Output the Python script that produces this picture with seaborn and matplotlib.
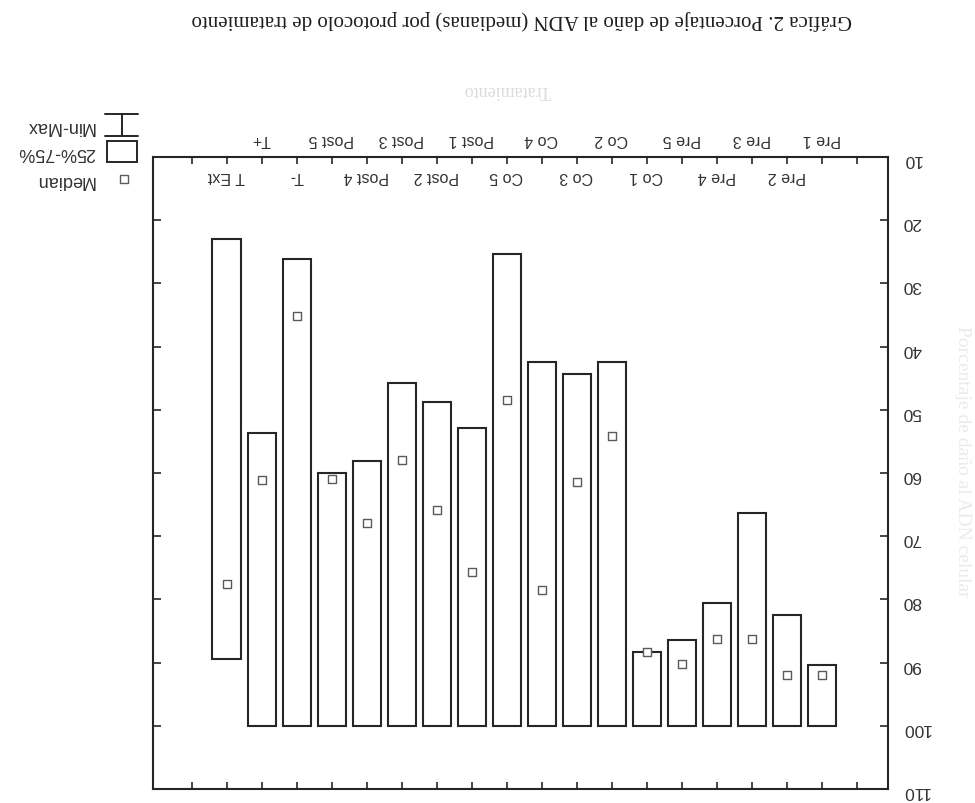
import matplotlib
matplotlib.use("Agg")
import matplotlib.pyplot as plt
from matplotlib.patches import Rectangle
from matplotlib.lines import Line2D
import pandas as pd
import seaborn as sns

# Treatment protocols, in axis order
categories = ["Pre 1", "Pre 2", "Pre 3", "Pre 4", "Pre 5",
              "Co 1", "Co 2", "Co 3", "Co 4", "Co 5",
              "Post 1", "Post 2", "Post 3", "Post 4", "Post 5",
              "T-", "T+", "T Ext"]
# Box edges (25% and 75%) and medians, % DNA damage
box_low = [90.4, 82.5, 66.4, 80.5, 86.4, 88.3, 42.4, 44.3, 42.4, 25.3,
           52.9, 48.7, 45.8, 58.1, 60.0, 26.2, 53.7, 23.0]
box_high = [100, 100, 100, 100, 100, 100, 100, 100, 100, 100,
            100, 100, 100, 100, 100, 100, 100, 89.5]
medians = [92.0, 92.0, 86.2, 86.2, 90.3, 88.3, 54.2, 61.4, 78.5, 48.4,
           75.7, 65.9, 58.0, 67.9, 61.0, 35.2, 61.1, 77.5]
y_ticks = [10, 20, 30, 40, 50, 60, 70, 80, 90, 100, 110]

title = "Gráfica 2. Porcentaje de daño al ADN (medianas) por protocolo de tratamiento"
x_title = "Tratamiento"
y_title = "Porcentaje de daño al ADN celular"
legend_labels = ["Median", "25%-75%", "Min-Max"]

sns.set_theme(style="white")
plt.rcParams["font.family"] = ["Liberation Sans", "DejaVu Sans"]

W, H = 975, 804
ink = "#262626"


def fx(px):
    return px / W


def fy(py):
    return 1 - py / H


fig = plt.figure(figsize=(W / 100, H / 100), dpi=100, facecolor="white")
ax = fig.add_axes([fx(153), fy(790), fx(888) - fx(153), fy(158) - fy(790)])
ax.set_facecolor("white")

df = pd.DataFrame({
    "pos": range(len(categories)),
    "low": box_low,
    "high": box_high,
    "median": medians,
})

# 25%-75% boxes
ax.bar(df["pos"], df["high"] - df["low"], bottom=df["low"], width=0.8,
       facecolor="white", edgecolor=ink, linewidth=1.5, zorder=2)

# median markers
sns.scatterplot(data=df, x="pos", y="median", marker="s", s=30,
                color="white", edgecolor="#5a5a5a", linewidth=1.0,
                legend=False, zorder=3, ax=ax)

# page printed upside down: both axes reversed, all text turned 180 degrees
ax.set_xlim(19.1, -1.9)
ax.set_ylim(110, 10)
ax.set_xlabel("")
ax.set_ylabel("")

for sp in ax.spines.values():
    sp.set_visible(True)
    sp.set_color(ink)
    sp.set_linewidth(1.5)

ax.set_yticks(y_ticks)
ax.set_yticklabels([str(v) for v in y_ticks])
ax.tick_params(axis="y", direction="in", left=True, right=True,
               labelleft=False, labelright=True, length=6, width=1.2,
               color=ink, pad=10, labelsize=12.5, labelcolor="#333333",
               labelrotation=180)

tick_pos = list(range(-1, 19))
tick_lab = [categories[p] if 0 <= p < len(categories) and p % 2 == 0 else ""
            for p in tick_pos]
ax.set_xticks(tick_pos)
ax.set_xticklabels(tick_lab)
ax.tick_params(axis="x", direction="in", top=True, bottom=True,
               labeltop=True, labelbottom=False, length=5, width=1.2,
               color=ink, pad=8, labelsize=11.5, labelcolor="#333333",
               labelrotation=180)

# second row of category labels, inside the frame
for p, name in enumerate(categories):
    if p % 2 == 1:
        ax.text(p, 13.0, name, rotation=180, ha="center", va="center",
                fontsize=11.5, color="#333333")

# title and axis titles
fig.text(fx(522), fy(20), title, rotation=180, ha="center", va="center",
         fontsize=15, family=["Liberation Serif", "DejaVu Serif"], color="#1e1e1e")
fig.text(fx(507), fy(91), x_title, rotation=180, ha="center", va="center",
         fontsize=13, family=["Liberation Serif", "DejaVu Serif"], color="#dcdcdc")
fig.text(fx(962), fy(462), y_title, rotation=-90, ha="center", va="center",
         fontsize=14, family=["Liberation Serif", "DejaVu Serif"], color="#ebebeb")

# legend
tf = fig.transFigure
fig.add_artist(Line2D([fx(105), fx(138)], [fy(115), fy(115)], color=ink, lw=1.4, transform=tf))
fig.add_artist(Line2D([fx(121.5), fx(121.5)], [fy(115), fy(137)], color=ink, lw=1.4, transform=tf))
fig.add_artist(Line2D([fx(105), fx(138)], [fy(137), fy(137)], color=ink, lw=1.4, transform=tf))
fig.add_artist(Rectangle((fx(107), fy(163)), fx(137) - fx(107), fy(142) - fy(163),
                         facecolor="white", edgecolor=ink, lw=1.4, transform=tf))
fig.add_artist(Line2D([fx(124)], [fy(180)], marker="s", markersize=5.5,
                      markerfacecolor="white", markeredgecolor="#5a5a5a",
                      markeredgewidth=1.0, linestyle="none", transform=tf))
for label, py in zip(legend_labels, [180, 153, 127]):
    fig.text(fx(95), fy(py), label, rotation=180, ha="right", va="center",
             fontsize=13, color="#333333")

fig.savefig("out.png", dpi=100, facecolor="white")
